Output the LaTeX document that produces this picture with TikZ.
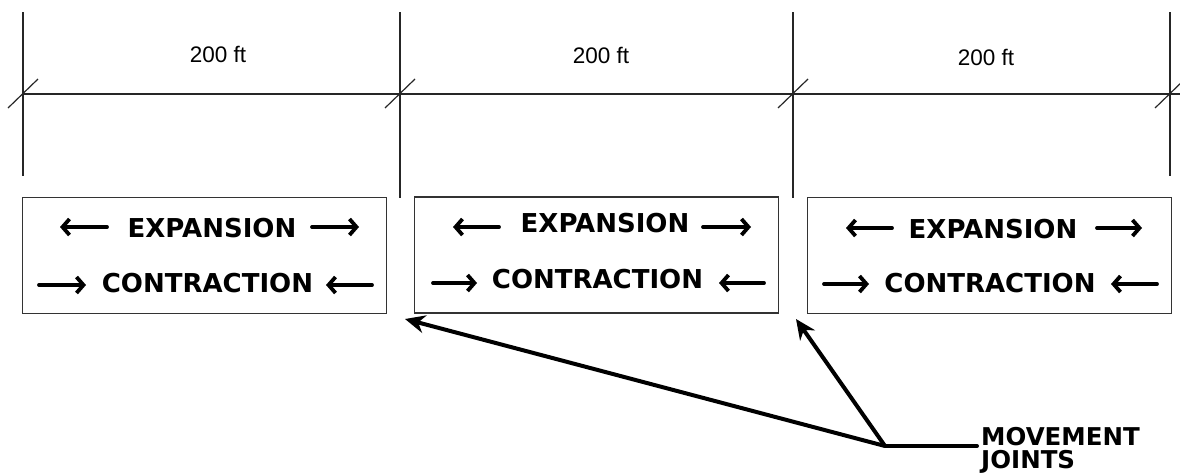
\documentclass[tikz,border=0pt]{standalone}
\usepackage{fontspec}
\setmainfont{DejaVu Sans}
\newfontfamily\dimfont{Liberation Sans}
\usetikzlibrary{arrows.meta}
\begin{document}
\begin{tikzpicture}[x=1pt,y=-1pt,
  dimline/.style={line width=1.4pt,draw=black!85},
  tickline/.style={line width=1.2pt,draw=black!85},
  panel/.style={draw=black!80,line width=1.1pt,minimum width=364pt,minimum height=116pt,inner sep=0,anchor=center},
  word/.style={font=\bfseries\fontsize{26}{30}\selectfont,inner sep=0,anchor=base},
  dimlabel/.style={font=\dimfont\fontsize{22.5}{26}\selectfont,inner sep=0,anchor=base},
  movearrow/.style={line width=3.8pt,-{Straight Barb[length=7pt,width=16pt,line width=3.8pt]},line cap=round},
  leader/.style={line width=4pt,line cap=round},
  leaderarrow/.style={line width=4pt,-{Stealth[length=20pt,width=18pt]}},
  mlabel/.style={font=\bfseries\fontsize{24.5}{26}\selectfont,inner sep=0,anchor=base west}
]
\useasboundingbox (0,0) rectangle (1180,474);
% extension lines
\coordinate (e1t) at (23,12);   \coordinate (e1b) at (23,176);
\coordinate (e2t) at (400,12);  \coordinate (e2b) at (400,198);
\coordinate (e3t) at (793,12);  \coordinate (e3b) at (793,198);
\coordinate (e4t) at (1170,12); \coordinate (e4b) at (1170,176);
\draw[dimline] (e1t) -- (e1b);
\draw[dimline] (e2t) -- (e2b);
\draw[dimline] (e3t) -- (e3b);
\draw[dimline] (e4t) -- (e4b);
% dimension line
\coordinate (d1) at (23,94); \coordinate (d2) at (400,94);
\coordinate (d3) at (793,94); \coordinate (d4) at (1170,94);
\coordinate (dend) at (1181,94);
\draw[dimline] (d1) -- (dend);
\foreach \p in {d1,d2,d3,d4}{
  \draw[tickline] ([shift={(-15,14)}]\p) -- ([shift={(15,-15)}]\p);
}
\node[dimlabel] (l1) at (218,62) {200 ft};
\node[dimlabel] (l2) at (601,63) {200 ft};
\node[dimlabel] (l3) at (986,65) {200 ft};
% panels
\node[panel] (b1) at (204.5,255.5) {};
\node[panel] (b2) at (596.5,255) {};
\node[panel] (b3) at (989.5,255.5) {};
% texts
\node[word] (x1) at (212,237) {EXPANSION};
\node[word] (c1) at (207.5,292) {CONTRACTION};
\node[word] (x2) at (605,232) {EXPANSION};
\node[word] (c2) at (597.5,288) {CONTRACTION};
\node[word] (x3) at (993,238) {EXPANSION};
\node[word] (c3) at (990,292) {CONTRACTION};
% panel arrows
\draw[movearrow] (107,227) -- (60,227);
\draw[movearrow] (312,227) -- (359,227);
\draw[movearrow] (39,285) -- (86,285);
\draw[movearrow] (372,285) -- (326,285);
\draw[movearrow] (499,227) -- (453,227);
\draw[movearrow] (703,227) -- (751,227);
\draw[movearrow] (433,283) -- (477,283);
\draw[movearrow] (764,283) -- (719,283);
\draw[movearrow] (892,228) -- (846,228);
\draw[movearrow] (1097,228) -- (1142,228);
\draw[movearrow] (824,284) -- (869,284);
\draw[movearrow] (1157,284) -- (1111,284);
% movement joints
\coordinate (J) at (885,446);
\coordinate (Jend) at (977,446);
\coordinate (t1) at (405,319);
\coordinate (t2) at (796,319);
\draw[leaderarrow] (J) -- (t1);
\draw[leaderarrow] (J) -- (t2);
\draw[leader] (J) -- (Jend);
\node[mlabel] (m1) at (981,445) {MOVEMENT};
\node[mlabel] (m2) at (981,468) {JOINTS};
\end{tikzpicture}
\end{document}
